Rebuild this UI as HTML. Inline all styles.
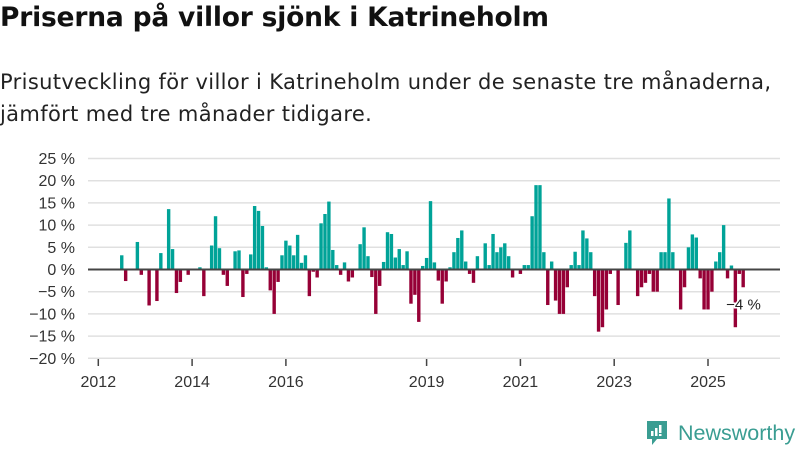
<!DOCTYPE html>
<html><head><meta charset="utf-8">
<style>
body{margin:0;width:800px;height:450px;background:#fff;overflow:hidden;font-family:"Liberation Sans",sans-serif;}
#title{position:absolute;left:0;top:2px;font-family:"DejaVu Sans",sans-serif;font-size:26.5px;font-weight:bold;color:#111;margin:0;letter-spacing:-0.2px;}
#sub{position:absolute;left:0;top:66px;font-family:"DejaVu Sans",sans-serif;font-size:21px;line-height:32px;color:#222;margin:0;letter-spacing:0.35px;}
svg{position:absolute;left:0;top:0;}
</style></head><body>
<h1 id="title">Priserna på villor sjönk i Katrineholm</h1>
<p id="sub">Prisutveckling för villor i Katrineholm under de senaste tre månaderna,<br>jämfört med tre månader tidigare.</p>
<svg id="chart" width="800" height="450"></svg>
<script>
const startYear = 2012;
const values = [null,null,null,null,null,null,3.2,-2.6,null,null,6.2,-1.2,null,-8.1,null,-7.1,3.7,null,13.6,4.6,-5.3,-2.8,null,-1.2,null,null,0.5,-6,null,5.4,12,4.8,-1.2,-3.7,null,4.1,4.3,-6.2,-1,3.4,14.3,13.2,9.8,0.5,-4.7,-10,-2.8,3.2,6.5,5.4,3.2,7.8,1.5,3.2,-6,-0.5,-1.8,10.4,12.5,15.3,4.4,1,-1.2,1.6,-2.7,-1.8,null,5.7,9.5,3,-1.7,-10,-3.7,1.7,8.4,8,2.7,4.6,1,4.1,-7.7,-5.7,-11.8,0.8,2.6,15.4,1.6,-2.5,-7.7,-2.7,0.5,3.9,7.1,8.8,1.8,-1,-3,3,null,5.9,1,8,3.9,5,5.9,3,-1.8,null,-1,1,1,12,19,19,3.9,-8,1.8,-7,-10,-10,-4,1,4,1,8.8,7,3.9,-6,-14,-13,-9,-1,null,-8,null,6,8.8,null,-6,-4,-3,-1,-5,-5,3.9,3.9,16,3.9,null,-9,-4,5,7.9,7.2,-2,-9,-9,-5,1.8,3.9,10,-2,0.9,-13,-1,-4];
const yTicks = [25,20,15,10,5,0,-5,-10,-15,-20];
const xTickYears = [2012,2014,2016,2019,2021,2023,2025];
const lastLabel = "−4 %";

const NS="http://www.w3.org/2000/svg";
const svg=document.getElementById('chart');
function xOf(yr){return 98.3+(yr-2012)*46.9;}
function yOf(v){return 269.5-v*4.44;}
function mk(t,a){const e=document.createElementNS(NS,t);for(const k in a)e.setAttribute(k,a[k]);svg.appendChild(e);return e;}
yTicks.forEach(v=>{
  const g=mk('line',{x1:88,x2:780,y1:yOf(v),y2:yOf(v),stroke:'#e0e0e0','stroke-width':1.5});
  
  
  const t=mk('text',{x:75,y:yOf(v)+5.5,'text-anchor':'end','font-size':16,fill:'#333'});
  t.textContent=(v<0?'−'+(-v):v)+' %';
  
  
});
xTickYears.forEach(y=>{
  const l=mk('line',{x1:xOf(y),x2:xOf(y),y1:359,y2:366,stroke:'#444','stroke-width':1.5});
  
  
  const t=mk('text',{x:xOf(y),y:387,'text-anchor':'middle','font-size':16,fill:'#333'});
  t.textContent=y;
  
  
});
values.forEach((v,i)=>{
  if(v===null)return;
  const cx=xOf(startYear+i/12);
  const y0=yOf(0),y1=yOf(v);
  const r=mk('rect',{x:cx-1.7,width:3.4,y:Math.min(y0,y1),height:Math.abs(y1-y0),fill:v>=0?'#00a398':'#960036'});
  
  
});
const z=mk('line',{x1:88,x2:780,y1:yOf(0),y2:yOf(0),stroke:'#444','stroke-width':2});


const li=values.length-1;
const lt=mk('text',{x:xOf(startYear+li/12)-17,y:yOf(values[li])+22,'font-size':15,fill:'#222',stroke:'#fff','stroke-width':3,'paint-order':'stroke'});
lt.textContent=lastLabel;


</script>
<div style="position:absolute;left:645px;top:419px;display:flex;align-items:center;">
  <svg width="24" height="28" viewBox="0 0 24 28" style="position:static">
    <path d="M2 2h20v18h-10l-5 6v-6h-5z" fill="#3a9d92"/>
    <rect x="6" y="12" width="2.5" height="5" fill="#fff"/><rect x="10" y="9" width="2.5" height="8" fill="#fff"/><rect x="14" y="6" width="2.5" height="8" fill="#fff"/><rect x="14" y="15" width="2.5" height="2" fill="#fff"/>
  </svg>
  <span style="font-size:21.5px;color:#3a9d92;margin-left:9px;">Newsworthy</span>
</div>
</body></html>
